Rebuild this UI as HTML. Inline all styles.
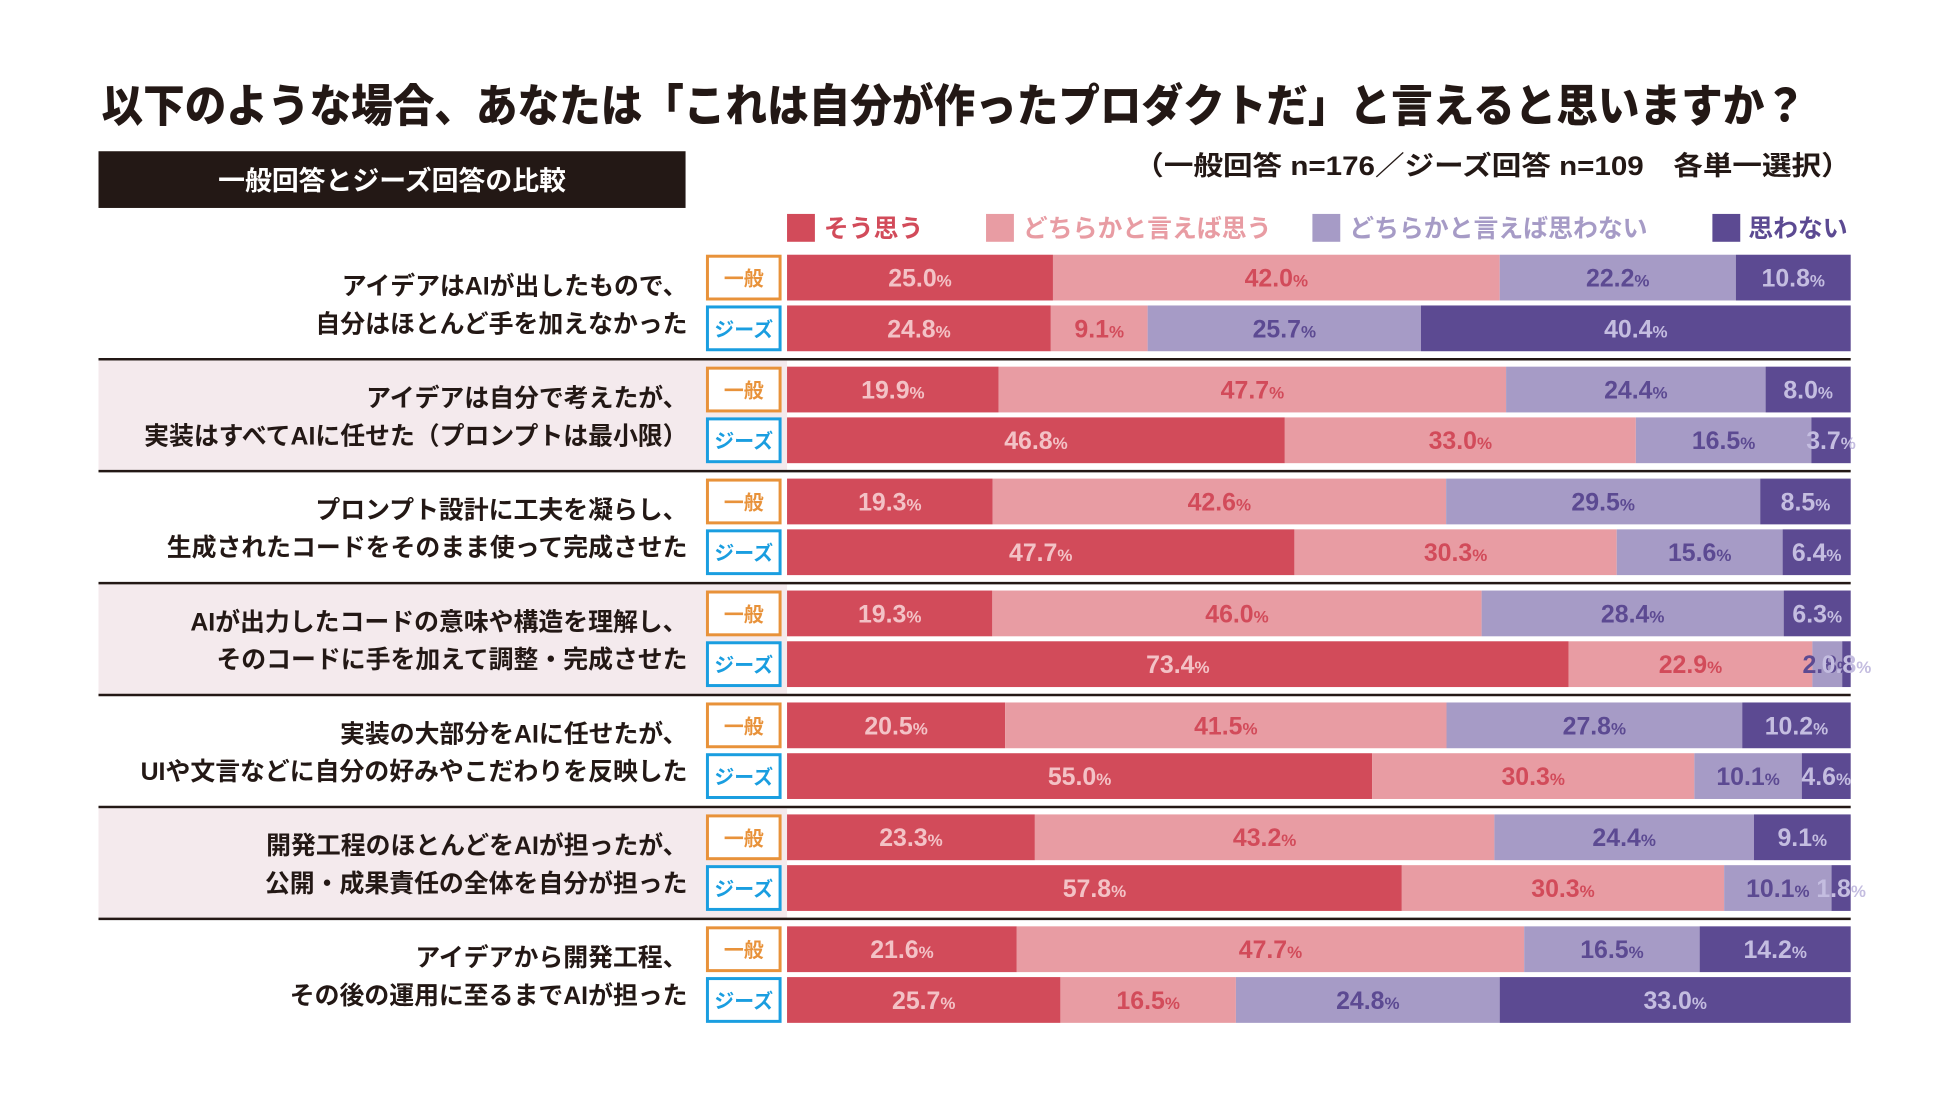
<!DOCTYPE html>
<html><head><meta charset="utf-8">
<style>
html,body{margin:0;padding:0;background:#fff;}
svg{display:block;font-family:"Liberation Sans","Noto Sans CJK JP",sans-serif;}
</style></head>
<body>
<svg id="chart" width="1950" height="1097" viewBox="0 0 1950 1097" xmlns="http://www.w3.org/2000/svg">
<g id="root" transform="scale(0.995)">
<text x="102" y="122" font-size="45" font-weight="900" fill="#231815" textLength="1713" lengthAdjust="spacingAndGlyphs">以下のような場合、あなたは「これは自分が作ったプロダクトだ」と言えると思いますか？</text>
<rect x="99" y="152" width="590" height="57" fill="#231815"/>
<text x="394" y="191" font-size="27" font-weight="700" fill="#fff" text-anchor="middle">一般回答とジーズ回答の比較</text>
<text x="1860" y="176" font-size="27" font-weight="700" fill="#231815" text-anchor="end" textLength="720" lengthAdjust="spacingAndGlyphs">（一般回答 n=176／ジーズ回答 n=109　各単一選択）</text>
<g id="legend"></g>
<g id="rows"></g>
</g>
</svg>
<script>
const categories = [
 ["アイデアはAIが出したもので、","自分はほとんど手を加えなかった"],
 ["アイデアは自分で考えたが、","実装はすべてAIに任せた（プロンプトは最小限）"],
 ["プロンプト設計に工夫を凝らし、","生成されたコードをそのまま使って完成させた"],
 ["AIが出力したコードの意味や構造を理解し、","そのコードに手を加えて調整・完成させた"],
 ["実装の大部分をAIに任せたが、","UIや文言などに自分の好みやこだわりを反映した"],
 ["開発工程のほとんどをAIが担ったが、","公開・成果責任の全体を自分が担った"],
 ["アイデアから開発工程、","その後の運用に至るまでAIが担った"]
];
const seriesNames = ["そう思う","どちらかと言えば思う","どちらかと言えば思わない","思わない"];
const generalValues = [
 [25.0,42.0,22.2,10.8],[19.9,47.7,24.4,8.0],[19.3,42.6,29.5,8.5],[19.3,46.0,28.4,6.3],
 [20.5,41.5,27.8,10.2],[23.3,43.2,24.4,9.1],[21.6,47.7,16.5,14.2]
];
const geesValues = [
 [24.8,9.1,25.7,40.4],[46.8,33.0,16.5,3.7],[47.7,30.3,15.6,6.4],[73.4,22.9,2.8,0.8],
 [55.0,30.3,10.1,4.6],[57.8,30.3,10.1,1.8],[25.7,16.5,24.8,33.0]
];
const groupLabels = ["一般","ジーズ"];

const NS="http://www.w3.org/2000/svg";
const fills=["#d24b5a","#e89ca3","#a69bc6","#5c4a92"];
const textCols=["#f3c2c6","#d24b5a","#5c4a92","#c4bde0"];
const X0=791, X1=1860, TOP=256, PITCH=112.5, BH=46, GAP=51;
function xScale(cum,total){return X0+(X1-X0)*cum/total;}
function mk(tag,attrs,parent){const e=document.createElementNS(NS,tag);for(const k in attrs)e.setAttribute(k,attrs[k]);parent.appendChild(e);return e;}

const legend=document.getElementById('legend');
const legX=[[791,828],[991,1028],[1319,1356],[1721,1757]];
seriesNames.forEach((n,i)=>{
 const r=mk('rect',{x:legX[i][0],y:215,width:28,height:28,fill:fills[i]},legend);
 
 
 const t=mk('text',{x:legX[i][1],y:238,'font-size':25,'font-weight':700,fill:fills[i]},legend);
 t.textContent=n;
 
 
});

const rows=document.getElementById('rows');
categories.forEach((cat,g)=>{
 const top=TOP+g*PITCH;
 if(g%2===1){
  const bg=mk('rect',{x:99,y:top-6,width:692,height:PITCH-1,fill:"#f4eaed"},rows);
  
  
 }
 cat.forEach((line,li)=>{
  const t=mk('text',{x:691,y:top+40+li*38,'font-size':25,'font-weight':700,fill:'#231815','text-anchor':'end'},rows);
  t.textContent=line;
  
  
 });
 [generalValues[g],geesValues[g]].forEach((vals,s)=>{
  const y=top+s*GAP;
  const col=s===0?"#e8923a":"#1a9ee0";
  const b=mk('rect',{x:711,y:y+1.5,width:73,height:BH-3,fill:'#fff',stroke:col,'stroke-width':3},rows);
  
  
  const bt=mk('text',{x:747.5,y:y+31,'font-size':20,'font-weight':700,fill:col,'text-anchor':'middle'},rows);
  bt.textContent=groupLabels[s];
  
  
  const total=vals.reduce((a,b)=>a+b,0);
  let cum=0;
  vals.forEach((v,i)=>{
   const xa=xScale(cum,total), xb=xScale(cum+v,total);
   const r=mk('rect',{x:xa,y:y,width:xb-xa,height:BH,fill:fills[i]},rows);
   
   
   cum+=v;
  });
  cum=0;
  vals.forEach((v,i)=>{
   const xa=xScale(cum,total), xb=xScale(cum+v,total);
   cum+=v;
   const t=mk('text',{x:(xa+xb)/2,y:y+32,'font-size':25,'font-weight':700,fill:textCols[i],'text-anchor':'middle'},rows);
   t.textContent=v.toFixed(1);
   const p=mk('tspan',{'font-size':17},t);
   p.textContent='%';
   
   
  });
 });
 if(g<categories.length-1){
  const l=mk('line',{x1:99,x2:1860,y1:top+105,y2:top+105,stroke:'#231815','stroke-width':2.5},rows);
  
  
 }
});
</script>
</body></html>
